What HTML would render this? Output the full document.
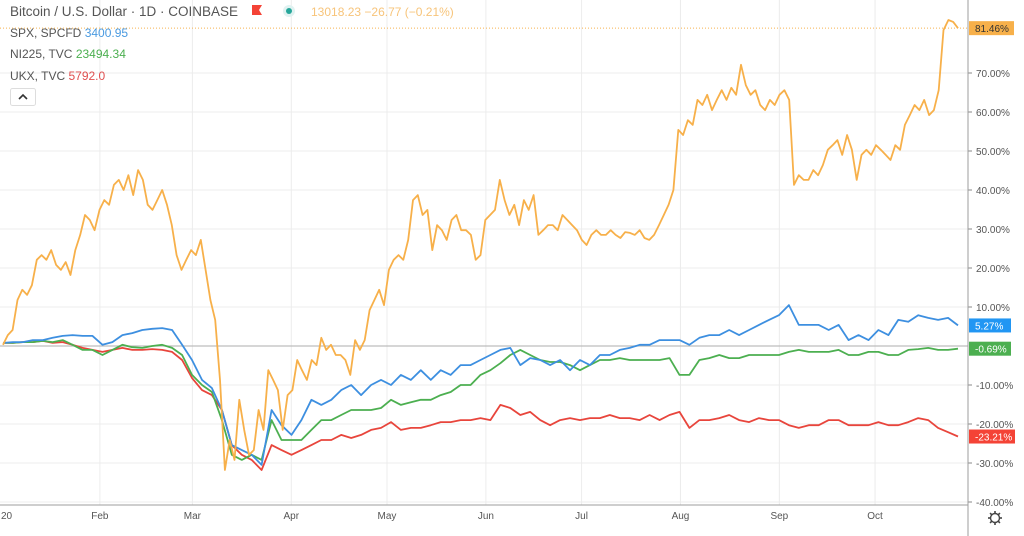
<!DOCTYPE html>
<html><head><meta charset="utf-8">
<style>
html,body{margin:0;padding:0;background:#fff;}
body{width:1024px;height:536px;overflow:hidden;font-family:"Liberation Sans",sans-serif;}
svg{display:block;}
</style></head>
<body>
<svg id="chart" width="1024" height="536" viewBox="0 0 1024 536" xmlns="http://www.w3.org/2000/svg">
<g id="grid"></g>
<g id="series"></g>
<g id="axes"></g>
<g id="legend" font-family="Liberation Sans, sans-serif">
  <text x="10" y="16" font-size="13.5" fill="#555">Bitcoin / U.S. Dollar · 1D · COINBASE</text>
  <path d="M252 5 h10 l-3 5 l3 5 h-10 z" fill="#f44336"/>
  <circle cx="289" cy="11" r="6" fill="#e0f2f1"/>
  <circle cx="289" cy="11" r="3" fill="#26a69a"/>
  <text x="311" y="16" font-size="12" fill="#f7c47a">13018.23 −26.77 (−0.21%)</text>
  <text x="10" y="37" font-size="12" fill="#555">SPX, SPCFD <tspan fill="#4a9ae0">3400.95</tspan></text>
  <text x="10" y="58" font-size="12" fill="#555">NI225, TVC <tspan fill="#4caf50">23494.34</tspan></text>
  <text x="10" y="80" font-size="12" fill="#555">UKX, TVC <tspan fill="#e05050">5792.0</tspan></text>
  <rect x="10.5" y="88.5" width="25" height="17" rx="2" fill="#fff" stroke="#ddd"/>
  <path d="M19 99 l4 -4 l4 4" fill="none" stroke="#333" stroke-width="1.6"/>
</g>
</svg>
<script>
const months = ["20","Feb","Mar","Apr","May","Jun","Jul","Aug","Sep","Oct"];
const monthDays = [0,31,60,91,121,152,182,213,244,274];
const yTicks = [70,60,50,40,30,20,10,-10,-20,-30,-40];
const btc = [0.3,2.8,4.1,11.8,14.4,13.1,15.6,22.1,23.3,22.1,24.6,20.8,19.5,21.5,18.2,24.6,28.5,33.6,32.3,29.7,34.9,37.4,36.2,41.3,42.6,40,43.8,38.7,45.1,42.6,36.2,34.9,37.4,40,36.2,31,23.3,19.5,22.1,24.6,23.3,27.2,19.5,11.8,6.7,-8.7,-31.8,-24.1,-29.2,-13.8,-21.5,-27.9,-26.7,-16.4,-21.5,-6.2,-8.7,-11.3,-21.5,-12.6,-11.3,-3.6,-6.2,-8.7,-3.6,-4.9,2.1,-1,0.3,-2.3,-2.3,-3.6,-7.4,1.5,-1,1.5,9.2,11.8,14.4,10.5,19.5,22.1,23.3,22.1,27.2,37.4,38.7,33.6,34.9,24.6,31,29.7,27.2,32.3,33.6,29.7,29.7,28.5,22.1,23.3,32.3,33.6,34.9,42.6,37.4,33.6,36.2,31,37.4,34.9,38.7,28.5,29.7,31,31,29.7,33.6,32.3,31,29.7,27.2,25.9,28.5,29.7,28.5,28.5,29.7,28.5,27.7,29.2,29,28.5,29.7,27.7,27.2,28.5,31,33.6,36.2,40,55.4,54.1,57.9,56.7,63.1,61.8,64.4,60.5,63.1,65.6,63.1,66.2,64.4,72.1,66.9,64.4,65.6,61.8,60.5,63.1,61.8,64.4,65.6,63.1,41.3,43.8,42.6,42.6,45.1,43.8,46.4,50.3,51.5,52.8,49,54.1,50.3,42.6,49,50.3,49,51.5,50.3,49,47.7,51.5,50.3,56.7,59.2,61.8,60.5,63.1,59.2,60.5,65.6,81,83.6,83.1,81.5];
const spx = [0.8,1,1,1.5,1.5,2.1,2.6,2.8,2.6,2.6,0.3,1,2.8,3.3,4.1,4.4,4.6,4.1,0.3,-3.6,-8.7,-10.8,-16.4,-25.4,-26.7,-27.9,-30.5,-16.4,-20.3,-22.8,-19,-13.8,-15.1,-13.8,-11.3,-10,-12.6,-10,-8.7,-10,-7.4,-8.7,-6.2,-8.7,-6.2,-7.4,-4.9,-4.9,-3.6,-2.3,-1,-0.5,-4.9,-3.1,-3.6,-4.9,-3.6,-6.2,-3.6,-4.9,-2.3,-2.3,-1,-0.5,0.3,0.3,1.5,1.5,1.5,0.3,2.1,2.8,2.8,4.1,2.8,4.1,5.4,6.7,7.9,10.5,5.4,5.4,5.4,4.1,5.4,1.5,2.8,1.5,4.1,2.8,6.7,6.2,7.9,7.2,6.7,7.2,5.27];
const nk = [0.8,0.8,1,1,1.3,1,1.5,0.3,-1,-1,-2.3,-1,0.3,-0.3,-0.5,0,0.3,-0.5,-2.3,-7.4,-10,-11.8,-19,-27.9,-29.2,-27.9,-29.2,-19,-24.1,-24.1,-24.1,-21.5,-19,-19,-17.7,-16.4,-16.4,-16.4,-15.9,-13.8,-15.1,-14.4,-13.8,-13.8,-12.6,-11.8,-10,-10,-7.4,-6.2,-4.4,-2.3,-1,-2.3,-3.6,-4.1,-4.1,-4.9,-6.2,-4.9,-3.6,-3.6,-3.1,-3.6,-3.6,-3.6,-3.6,-3.1,-7.4,-7.4,-3.6,-3.1,-2.3,-3.1,-3.1,-2.3,-2.3,-2.3,-2.3,-1.5,-1,-1.5,-1.5,-1.5,-1,-2.3,-2.3,-1.5,-1.5,-2.3,-2.3,-1,-0.8,-0.5,-1,-1,-0.69];
const ukx = [0.8,0.8,1,1,1.3,0.8,1,0.3,-0.5,-1,-1.5,-1,-0.5,-1,-1,-0.8,-1,-1.5,-3.6,-8.2,-11.3,-12.6,-16.4,-25.4,-27.9,-29.2,-31.8,-25.4,-26.7,-27.9,-26.7,-25.4,-24.1,-24.1,-22.8,-23.6,-22.8,-21.5,-21,-19.5,-21.5,-21,-21,-20.3,-19.5,-19.5,-19,-19,-18.5,-19,-15.1,-15.9,-17.7,-16.9,-19,-20.3,-19,-18.5,-19,-18.5,-18.5,-17.7,-18.5,-18.5,-19,-17.7,-19,-17.7,-16.9,-21,-19,-19,-18.5,-17.7,-19,-19.5,-18.5,-19,-19,-20.3,-21,-20.3,-20.3,-19,-19,-20.3,-20.3,-20.3,-19.5,-20.3,-20.3,-19.5,-18.5,-19,-21,-22.1,-23.21];
const lastLabels = ["81.46%","5.27%","-0.69%","-23.21%"];

const NS="http://www.w3.org/2000/svg";
const PLOT_R=968, PLOT_B=505;
function yS(v){return 346-3.9*v;}
function dayX(d){return 1+d*3.19;}
function idxX(i,n){return 3+i*(958-3)/(n-1);}
function mk(tag,attrs,parent){const e=document.createElementNS(NS,tag);for(const k in attrs)e.setAttribute(k,attrs[k]);parent.appendChild(e);return e;}

const grid=document.getElementById('grid'), axes=document.getElementById('axes'), ser=document.getElementById('series');
// vertical grid + month labels
months.forEach((m,i)=>{
  const x=dayX(monthDays[i]);
  if(i>0){const l=mk('line',{x1:x,x2:x,y1:0,y2:PLOT_B,stroke:'#ececec','stroke-width':1},grid);
  
  }
  const t=mk('text',{x:i===0?1:x,y:519,'font-size':10,fill:'#555','text-anchor':i===0?'start':'middle'},axes);
  t.textContent=m;
  
  
});
yTicks.forEach(v=>{
  const y=yS(v);
  const l=mk('line',{x1:0,x2:PLOT_R,y1:y,y2:y,stroke:'#ececec','stroke-width':1},grid);
  
  
  mk('line',{x1:PLOT_R,x2:PLOT_R+4,y1:y,y2:y,stroke:'#888'},axes);
  const t=mk('text',{x:976,y:y+4,'font-size':10,fill:'#555'},axes);
  t.textContent=v.toFixed(2)+'%';
  
  
});
// baseline
const bl=mk('line',{x1:0,x2:PLOT_R,y1:yS(0),y2:yS(0),stroke:'#bdbdbd','stroke-width':1.3},grid);


// last price dotted line
const dl=mk('line',{x1:0,x2:PLOT_R,y1:yS(btc[btc.length-1]),y2:yS(btc[btc.length-1]),stroke:'#f7b24f','stroke-width':1,'stroke-dasharray':'1 2'},grid);



const seriesList=[[ukx,'#e8453c','ukx-line'],[nk,'#4caf50','ni225-line'],[spx,'#3d8fe0','spx-line'],[btc,'#f7b04a','btc-line']];
seriesList.forEach(([arr,col,name])=>{
  const pts=arr.map((v,i)=>idxX(i,arr.length).toFixed(1)+','+yS(v).toFixed(1)).join(' ');
  const p=mk('polyline',{points:pts,fill:'none',stroke:col,'stroke-width':1.8,'stroke-linejoin':'round'},ser);
  
  
});
// axes lines
mk('line',{x1:PLOT_R,x2:PLOT_R,y1:0,y2:536,stroke:'#9e9e9e'},axes);
mk('line',{x1:0,x2:PLOT_R,y1:PLOT_B,y2:PLOT_B,stroke:'#9e9e9e'},axes);
// last value tags
const tagData=[[btc,'#f7b04a','#333'],[spx,'#2196f3','#fff'],[nk,'#4caf50','#fff'],[ukx,'#f44336','#fff']];
tagData.forEach(([arr,bg,fg],i)=>{
  const y=yS(arr[arr.length-1]);
  const r=mk('rect',{x:969,y:y-7,width:i===3?46:(i===0?45:42),height:14,fill:bg},axes);
  
  
  const t=mk('text',{x:975,y:y+4,'font-size':10,fill:fg},axes);
  t.textContent=lastLabels[i];
  
  
});
// gear
const g=mk('g',{},axes);


mk('circle',{cx:995,cy:518,r:4.5,fill:'none',stroke:'#444','stroke-width':1.4},g);
for(let k=0;k<8;k++){const a=k*Math.PI/4;mk('line',{x1:995+4.5*Math.cos(a),y1:518+4.5*Math.sin(a),x2:995+7*Math.cos(a),y2:518+7*Math.sin(a),stroke:'#444','stroke-width':1.6},g);}
</script>
</body></html>
